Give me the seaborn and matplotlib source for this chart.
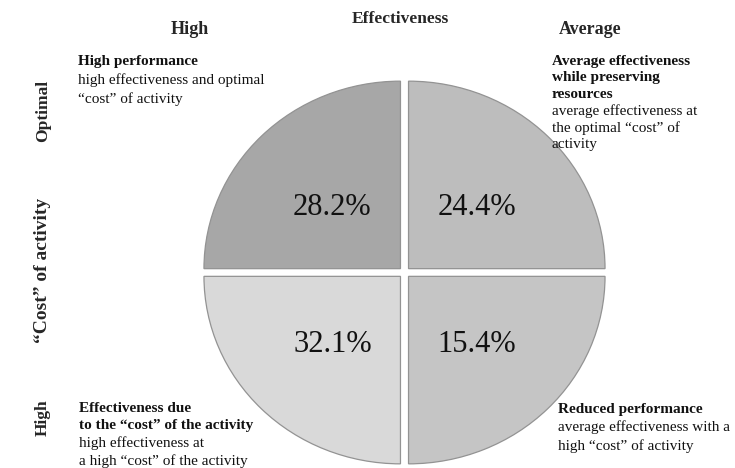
import matplotlib
matplotlib.use('Agg')
import matplotlib.pyplot as plt
import seaborn as sns

# quadrants in pie order (counter-clockwise from 12 o'clock):
# high eff/optimal cost, high eff/high cost, average eff/high cost, average eff/optimal cost
quadrant_share = [1, 1, 1, 1]
pct_values = [28.2, 32.1, 15.4, 24.4]
pct_labels = [f'{v:.1f}%' for v in pct_values]
quad_colors = ['#a7a7a7', '#d9d9d9', '#c5c5c5', '#bdbdbd']

col_headers = ['High', 'Average']
row_headers = ['Optimal', 'High']
top_title = 'Effectiveness'
side_title = '\u201cCost\u201d of activity'

sns.set_theme(style='white')
plt.rcParams['font.family'] = ['Liberation Serif', 'DejaVu Serif']

W, H = 735, 468
fig = plt.figure(figsize=(W / 100, H / 100), dpi=100)
fig.patch.set_facecolor('white')
ax = fig.add_axes([0, 0, 1, 1])

# pie is slightly squashed vertically in the reference
sy = 1.048
cx, cy = 404.5, 272.5
ax.pie(quadrant_share, colors=quad_colors, explode=[5.7] * 4,
       startangle=90, counterclock=True,
       center=(cx, (H - cy) * sy), radius=196.5,
       labels=pct_labels, labeldistance=0.49,
       wedgeprops=dict(edgecolor='#939393', linewidth=0.9),
       textprops=dict(fontsize=22, color='#111111'))
for t in ax.texts:
    t.set_ha('center')
    t.set_va('center_baseline')
ax.set_xlim(0, W)
ax.set_ylim(0, H * sy)
ax.set_aspect('auto')
ax.axis('off')


def px(x, y):
    return x / W, 1 - y / H


def block(x, y, lines, nbold, size=11, step=18.5):
    for i, line in enumerate(lines):
        fig.text(*px(x, y + i * step), line, fontsize=size, ha='left', va='center',
                 fontweight='bold' if i < nbold else 'normal', color='#111111')


fig.text(*px(400, 19), top_title, fontsize=12.5, fontweight='bold', ha='center', va='center')
fig.text(*px(190, 30), col_headers[0], fontsize=13, fontweight='bold', ha='center', va='center')
fig.text(*px(590, 30), col_headers[1], fontsize=13, fontweight='bold', ha='center', va='center')

fig.text(*px(43, 111), row_headers[0], fontsize=12.5, fontweight='bold', rotation=90,
         ha='center', va='center')
fig.text(*px(43, 270), side_title, fontsize=14, fontweight='bold', rotation=90,
         ha='center', va='center')
fig.text(*px(43, 418), row_headers[1], fontsize=12.5, fontweight='bold', rotation=90,
         ha='center', va='center')

block(78, 62, ['High performance', 'high effectiveness and optimal',
               '\u201ccost\u201d of activity'], 1)
block(552, 61, ['Average effectiveness', 'while preserving', 'resources',
                'average effectiveness at', 'the optimal \u201ccost\u201d of', 'activity'],
      3, step=16.7)
block(79, 408, ['Effectiveness due', 'to the \u201ccost\u201d of the activity',
                'high effectiveness at', 'a high \u201ccost\u201d of the activity'], 2, step=17.7)
block(558, 409, ['Reduced performance', 'average effectiveness with a',
                 'high \u201ccost\u201d of activity'], 1)

fig.savefig('out.png', dpi=100, facecolor='white')
